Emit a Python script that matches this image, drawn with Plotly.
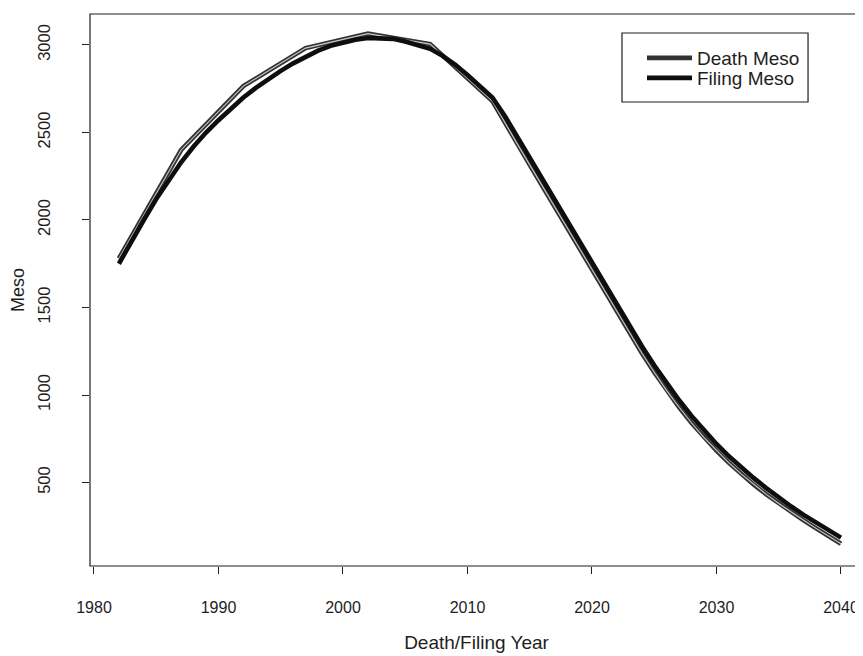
import plotly.graph_objects as go

# ---- data ----
death_years = [1982, 1987, 1992, 1997, 2002, 2007, 2012,
               2013, 2014, 2015, 2016, 2017, 2018, 2019, 2020, 2021, 2022,
               2023, 2024, 2025, 2026, 2027, 2028, 2029, 2030, 2031, 2032,
               2033, 2034, 2035, 2036, 2037, 2038, 2039, 2040]
death_meso = [1780, 2400, 2765, 2982, 3065, 3005, 2680,
              2555, 2435, 2315, 2195, 2075, 1955, 1835, 1715, 1595, 1475,
              1355, 1240, 1130, 1025, 930, 840, 757, 682, 612, 548,
              488, 432, 380, 330, 284, 238, 192, 150]

filing_years = list(range(1982, 2041))
filing_meso = [1750, 1880, 2000, 2120, 2230, 2330, 2420, 2500, 2570, 2638,
               2700, 2755, 2805, 2852, 2895, 2933, 2968, 2995, 3015, 3030,
               3040, 3040, 3035, 3020, 3000, 2978, 2938, 2888, 2828, 2760,
               2700, 2595, 2475, 2355, 2235, 2115, 1995, 1875, 1755, 1635,
               1515, 1395, 1280, 1170, 1065, 970, 880, 795, 720, 650,
               585, 525, 468, 414, 363, 315, 272, 228, 185]

x_ticks = [1980, 1990, 2000, 2010, 2020, 2030, 2040]
y_ticks = [500, 1000, 1500, 2000, 2500, 3000]

FONT = "Liberation Sans, Arial, Helvetica, sans-serif"
INK = "#1e1e1e"

fig = go.Figure()
fig.add_trace(go.Scatter(x=death_years, y=death_meso, mode="lines",
                         name="Death Meso", legend="legend",
                         line=dict(color="#333333", width=4.6)))
fig.add_trace(go.Scatter(x=death_years, y=death_meso, mode="lines",
                         name="Death Meso", showlegend=False,
                         hoverinfo="skip",
                         line=dict(color="#c8c8c8", width=1.1)))
fig.add_trace(go.Scatter(x=filing_years, y=filing_meso, mode="lines",
                         name="Filing Meso", legend="legend2",
                         line=dict(color="#0e0e0e", width=4.6)))

leg_common = dict(xanchor="left", yanchor="middle", borderwidth=0,
                  bgcolor="rgba(0,0,0,0)", font=dict(size=19, color=INK),
                  itemwidth=45)

# the page has an 8px body margin; the figure is sized so it fits the window
fig.update_layout(
    width=855, height=648,
    margin=dict(l=82, r=0, t=6, b=90, autoexpand=False),
    paper_bgcolor="white", plot_bgcolor="white",
    font=dict(family=FONT, size=16, color=INK),
    showlegend=True,
    legend=dict(x=0.7141, y=0.9203, **leg_common),
    legend2=dict(x=0.7141, y=0.8840, **leg_common),
    shapes=[
        dict(type="rect", xref="paper", yref="paper",
             x0=0, x1=1.05, y0=0, y1=1,
             line=dict(color=INK, width=1.2)),
        dict(type="rect", xref="paper", yref="paper",
             x0=0.6882, x1=0.9289, y0=0.8406, y1=0.9656,
             line=dict(color=INK, width=1.2)),
    ],
)
fig.update_xaxes(range=[1979.68, 1979.68 + 773 / 12.45],
                 tickvals=x_ticks, ticks="outside", ticklen=7,
                 tickcolor=INK, showgrid=False, zeroline=False,
                 automargin=False, ticklabelstandoff=20,
                 ticklabeloverflow="allow",
                 tickfont=dict(size=16),
                 title=dict(text="Death/Filing Year", standoff=20,
                            font=dict(size=19)))
fig.update_yaxes(range=[23, 3177], tickvals=y_ticks, ticks="outside",
                 ticklen=7, tickcolor=INK, tickangle=-90,
                 showgrid=False, zeroline=False, automargin=False,
                 ticklabelstandoff=25, tickfont=dict(size=16.5),
                 title=dict(text="Meso", standoff=9, font=dict(size=18)))

fig.write_html("out.html")
